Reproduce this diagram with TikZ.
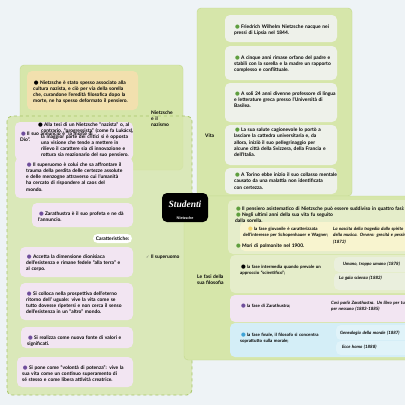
\documentclass[tikz,border=0pt]{standalone}
\usepackage{fontspec}
\setmainfont{Lato}
\newfontfamily\titlefont{Liberation Serif}
\newfontfamily\symfont{DejaVu Sans}
\usepackage{tikz}
\usetikzlibrary{positioning}
\definecolor{bgblue}{HTML}{EEF3F6}
\definecolor{panelgreen}{HTML}{D6E6AA}
\definecolor{paneledge}{HTML}{C3D98C}
\definecolor{dashgreen}{HTML}{A6C466}
\definecolor{vitacard}{HTML}{EEF1EA}
\definecolor{lavcard}{HTML}{F2E5F2}
\definecolor{orangecard}{HTML}{F2E0AE}
\definecolor{yellowcard}{HTML}{F8F4CF}
\definecolor{lightgreencard}{HTML}{E5EDCA}
\definecolor{bluecard}{HTML}{D4EEF7}
\definecolor{bulgreen}{HTML}{5E9E3E}
\definecolor{bulpurple}{HTML}{6F4E9C}
\definecolor{bulyellow}{HTML}{F2D36B}
\definecolor{bulblue}{HTML}{3FA3D6}
\newcommand{\dotb}[1]{\hspace{0.8pt}{\symfont\fontsize{5.4}{5}\selectfont\textcolor{#1}{●}}\hspace{1.3pt}}
\tikzstyle{panel} = [
    fill=panelgreen,
    draw=paneledge,
    rounded corners=4pt
]
\tikzstyle{dashpanel} = [
    fill=panelgreen,
    fill opacity=0.8,
    draw=dashgreen,
    dashed,
    thick,
    rounded corners=5pt
]
\tikzstyle{card} = [
    rounded corners=5pt
]
\tikzstyle{txt} = [
    anchor=base west,
    inner sep=0pt,
    text width=170pt,
    align=left,
    font=\fontsize{4.9}{6.3}\selectfont\bfseries
]
\tikzstyle{fasetxt} = [
    txt,
    font=\fontsize{4.4}{6.3}\selectfont\bfseries
]
\tikzstyle{book} = [
    txt,
    font=\fontsize{4.4}{6.8}\selectfont\bfseries\itshape
]
\tikzstyle{label} = [
    txt,
    text width=40pt
]

\begin{document}
\begin{tikzpicture}[x=1pt, y=-1pt]
    \useasboundingbox (0,0) rectangle (405,405);
    \fill[bgblue] (0,0) rectangle (405,405);

    % Panels
    \draw[panel] (20,65) rectangle (183,170);
    \draw[dashpanel] (7,116) rectangle (192,395);
    \draw[panel] (197,8) rectangle (352,196);
    \draw[panel] (184,196) rectangle (412,360);

    % Nietzsche e il nazismo
    \fill[orangecard, card] (27,71) rectangle (138,110);
    \node[txt] (naz1) at (33,84) {\dotb{black}Nietzsche è stato spesso associato alla\\cultura nazista, e ciò per via della sorella\\che, curandone l'eredità filosofica dopo la\\morte, ne ha spesso deformato il pensiero.};
    \node[label] (naz) at (151,114) {Nietzsche\\e il\\nazismo};
    \fill[lavcard, card] (15,122) rectangle (133,160);
    \node[txt, font=\fontsize{4.9}{5.9}\selectfont\bfseries] (naz2) at (37,126.5) {\dotb{black}Alla tesi di un Nietzsche ``nazista'' o, al\\
        \hspace{4pt}contrario, ``progressista'' (come fa Lukács),\\
        \hspace{4pt}la maggior parte dei critici si è opposta\\
        \hspace{4pt}una visione che tende a mettere in\\
        \hspace{4pt}rilievo il carattere sia di innovazione e\\
        \hspace{4pt}rottura sia reazionario del suo pensiero.};
    \node[txt] (sup0) at (20,135.5) {\dotb{bulpurple}Il suo annuncio è ``la morte di\\Dio''.};

    % Il superuomo
    \fill[lavcard, card] (15,158) rectangle (133,198);
    \node[txt] (sup1) at (26,166) {\dotb{bulpurple}Il superuomo è colui che sa affrontare il\\trauma della perdita delle certezze assolute\\e delle menzogne attraverso cui l'umanità\\ha cercato di rispondere al caos del\\mondo.};
    \fill[lavcard, card] (32,203) rectangle (133,227);
    \node[txt] (sup2) at (38,215) {\dotb{bulpurple}Zarathustra è il suo profeta e ne dà\\l'annuncio.};
    \fill[white, rounded corners=4.5pt] (93,234) rectangle (132,243);
    \node[txt, anchor=base, text width=] (car) at (112.5,240.3) {Caratteristiche:};
    \fill[lavcard, card] (20,247) rectangle (133,277);
    \node[txt] (sup3) at (26,258) {\dotb{bulpurple}Accetta la dimensione dionisiaca\\dell'esistenza e rimane fedele ``alla terra'' e\\al corpo.};
    \fill[lavcard, card] (20,283) rectangle (133,320);
    \node[txt] (sup4) at (26,295) {\dotb{bulpurple}Si colloca nella prospettiva dell'eterno\\ritorno dell' uguale: vive la vita come se\\tutto dovesse ripetersi e non cerca il senso\\dell'esistenza in un ``altro'' mondo.};
    \fill[lavcard, card] (21,327) rectangle (133,348);
    \node[txt] (sup5) at (27,339) {\dotb{bulpurple}Si realizza come nuova fonte di valori e\\significati.};
    \fill[lavcard, card] (17,357) rectangle (133,387);
    \node[txt] (sup6) at (22,369) {\dotb{bulpurple}Si pone come ``volontà di potenza'': vive la\\sua vita come un continuo superamento di\\sé stesso e come libera attività creatrice.};
    \node[txt, text width=] (sup) at (146,258) {{\symfont\fontsize{4}{4}\selectfont\textcolor{gray!70!black}{✓}}\hspace{1.5pt}Il superuomo};

    % Vita
    \node[label] (vita) at (205,137) {Vita};
    \fill[vitacard, card] (225,15) rectangle (337,42);
    \node[txt] (vita1) at (234,28) {\dotb{bulgreen}Friedrich Wilhelm Nietzsche nacque nei\\pressi di Lipsia nel 1844.};
    \fill[vitacard, card] (225,46) rectangle (337,80);
    \node[txt] (vita2) at (234,59) {\dotb{bulgreen}A cinque anni rimase orfano del padre e\\stabilì con la sorella e la madre un rapporto\\complesso e conflittuale.};
    \fill[vitacard, card] (225,83) rectangle (337,122);
    \node[txt] (vita3) at (234,95) {\dotb{bulgreen}A soli 24 anni divenne professore di lingua\\e letterature greca presso l'Università di\\Basilea.};
    \fill[vitacard, card] (225,125) rectangle (337,165);
    \node[txt] (vita4) at (234,131.5) {\dotb{bulgreen}La sua salute cagionevole lo portò a\\lasciare la cattedra universitaria e, da\\allora, iniziò il suo pellegrinaggio per\\alcune città della Svizzera, della Francia e\\dell'Italia.};
    \fill[vitacard, card] (225,168) rectangle (337,194);
    \node[txt] (vita5) at (234,176.5) {\dotb{bulgreen}A Torino ebbe inizio il suo collasso mentale\\causato da una malattia non identificata\\con certezza.};

    % Le fasi della sua filosofia
    \node[label] (fasi) at (197,278) {Le fasi della\\sua filosofia};
    \fill[lightgreencard, card] (228,200) rectangle (412,254);
    \fill[yellowcard, card] (240,222) rectangle (412,251);
    \node[txt, text width=200pt] (fasi0) at (235,210) {\dotb{bulgreen}Il pensiero asistematico di Nietzsche può essere suddiviso in quattro fasi:};
    \node[txt] (vita6) at (235,216) {\dotb{bulgreen}Negli ultimi anni della sua vita fu seguito\\dalla sorella.};
    \node[fasetxt] (fase1) at (243,230) {\hspace{4pt}\dotb{bulyellow}la fase giovanile è caratterizzata\\dell'interesse per Schopenhauer e Wagner;};
    \node[book] (libro1) at (333,230) {La nascita della tragedia dallo spirito\\della musica. Ovvero: grecità e pessimismo\\(1872)};
    \node[txt] (vita7) at (235,247.5) {\dotb{bulgreen}Morì di polmonite nel 1900.};

    \fill[lightgreencard, card] (230,255) rectangle (412,293);
    \fill[vitacard, opacity=0.6, card] (334,257) rectangle (412,272);
    \fill[vitacard, opacity=0.6, card] (334,273) rectangle (412,290);
    \node[fasetxt] (fase2) at (240,268.5) {\dotb{black}la fase intermedia quando prevale un\\approccio ``scientifico'';};
    \node[book] (libro2) at (343,265) {Umano, troppo umano (1878)};
    \node[book] (libro3) at (339,279) {La gaia scienza (1882)};

    \fill[lavcard, card] (230,295) rectangle (412,322);
    \node[fasetxt] (fase3) at (240,307) {\dotb{bulpurple}la fase di Zarathustra;};
    \node[book] (libro4) at (331,304) {Così parlò Zarathustra. Un libro per tutti e\\per nessuno (1883-1885)};

    \fill[bluecard, card] (230,323) rectangle (412,357);
    \fill[white, opacity=0.3, card] (336,325) rectangle (412,340);
    \fill[white, opacity=0.3, card] (336,341) rectangle (412,355);
    \node[fasetxt] (fase4) at (240,336) {\dotb{bulblue}la fase finale, il filosofo si concentra\\soprattutto sulla morale;};
    \node[book] (libro5) at (340,334) {Genealogia della morale (1887)};
    \node[book] (libro6) at (342,348) {Ecce homo (1888)};

    % Central node
    \fill[black, rounded corners=5pt] (162,193) rectangle (208,222);
    \node[white, font=\titlefont\bfseries\itshape\fontsize{9.5}{10}\selectfont] (root) at (185,204) {Studenti};
    \node[white, font=\fontsize{3.8}{4}\selectfont\bfseries, below=2.5pt of root] (rootsub) {Nietzsche};
\end{tikzpicture}
\end{document}
